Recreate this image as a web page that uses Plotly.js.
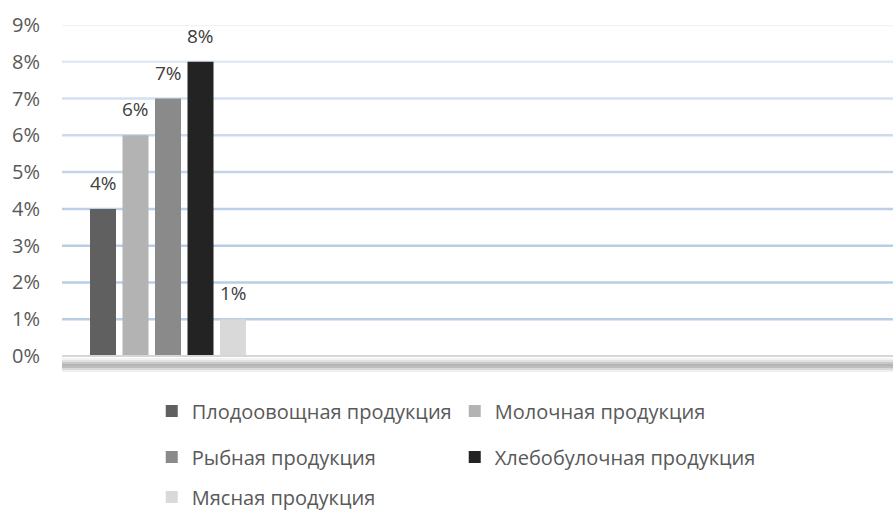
<!DOCTYPE html>
<html>
<head>
<meta charset="utf-8">
<script src="https://cdn.plot.ly/plotly-3.0.1.min.js"></script>
<style>html,body{margin:0;padding:0;background:#fff;}#chart{width:893px;height:511px;}</style>
</head>
<body>
<div id="chart"></div>
<script>
var seriesNames = ["Плодоовощная продукция", "Молочная продукция", "Рыбная продукция", "Хлебобулочная продукция", "Мясная продукция"];
var seriesValues = [0.04, 0.06, 0.07, 0.08, 0.01];
var seriesColors = ["#606060", "#b3b3b3", "#8a8a8a", "#232323", "#d9d9d9"];
var tickValues = [0, 0.01, 0.02, 0.03, 0.04, 0.05, 0.06, 0.07, 0.08, 0.09];
var gridColors = ["#d9d9d9", "#b9cde5", "#b9cde5", "#b9cde5", "#bccfe6", "#c5d5e9", "#cbdaec", "#d4e0ef", "#e0e9f4", "#eef3f9"];

var FONT = "Open Sans, DejaVu Sans, sans-serif";
var period = 0.1, barW = 0.08, firstOffset = -0.24;
var legendRow = ["legend", "legend", "legend2", "legend2", "legend3"];

var traces = seriesNames.map(function (n, i) {
  return {
    type: "bar",
    name: n,
    x: [0],
    y: [seriesValues[i]],
    offset: firstOffset + i * period,
    width: barW,
    marker: {color: seriesColors[i], line: {width: 0}},
    legend: legendRow[i],
    hoverinfo: "none"
  };
});

var annotations = seriesValues.map(function (v, i) {
  return {
    x: firstOffset + i * period + barW / 2,
    y: v,
    xref: "x", yref: "y",
    text: Math.round(v * 100) + "%",
    showarrow: false,
    yshift: 26,
    font: {family: FONT, size: 19, color: "#404040"}
  };
});

var shapes = tickValues.slice(1).map(function (t, k) {
  return {
    type: "line", xref: "paper", x0: 0, x1: 1, yref: "y", y0: t, y1: t,
    line: {color: gridColors[k + 1], width: 2.5}, layer: "below"
  };
});
// baseline and shadow
var shadow = [["#d6d6d6", 0, 2], ["#f2f2f2", -3, 2], ["#e2e2e2", -5, 2], ["#c8c8c8", -7, 2], ["#b4b4b4", -9, 2], ["#bdbdbd", -11, 2], ["#d8d8d8", -13, 2], ["#f0f0f0", -15, 2]];
shadow.forEach(function (s) {
  shapes.push({
    type: "line", xref: "paper", x0: 0, x1: 1, yref: "paper", ysizemode: "pixel", yanchor: 0,
    y0: s[1], y1: s[1], line: {color: s[0], width: s[2]}, layer: "above"
  });
});

function legendCfg(y) {
  return {
    orientation: "h", x: 0.108, xanchor: "left", y: y, yanchor: "middle",
    entrywidth: 258, entrywidthmode: "pixels", itemwidth: 30,
    font: {family: FONT, size: 20, color: "#595959"}, bgcolor: "rgba(0,0,0,0)"
  };
}

var layout = {
  width: 893, height: 511,
  margin: {l: 62, r: 0, t: 25, b: 155, autoexpand: false},
  paper_bgcolor: "#ffffff", plot_bgcolor: "#ffffff",
  barmode: "overlay",
  showlegend: true,
  xaxis: {range: [-0.3262, 2.2308], showticklabels: false, showgrid: false, zeroline: false, showline: false, fixedrange: true},
  yaxis: {
    range: [0, 0.09], tickvals: tickValues, tickformat: ".0%", showgrid: false, zeroline: false, showline: false,
    ticks: "", ticklabelstandoff: 21,
    tickfont: {family: FONT, size: 20, color: "#595959"}
  },
  legend: legendCfg(-0.166),
  legend2: legendCfg(-0.305),
  legend3: legendCfg(-0.426),
  annotations: annotations,
  shapes: shapes
};

Plotly.newPlot("chart", traces, layout, {displayModeBar: false, staticPlot: true});
</script>
</body>
</html>
